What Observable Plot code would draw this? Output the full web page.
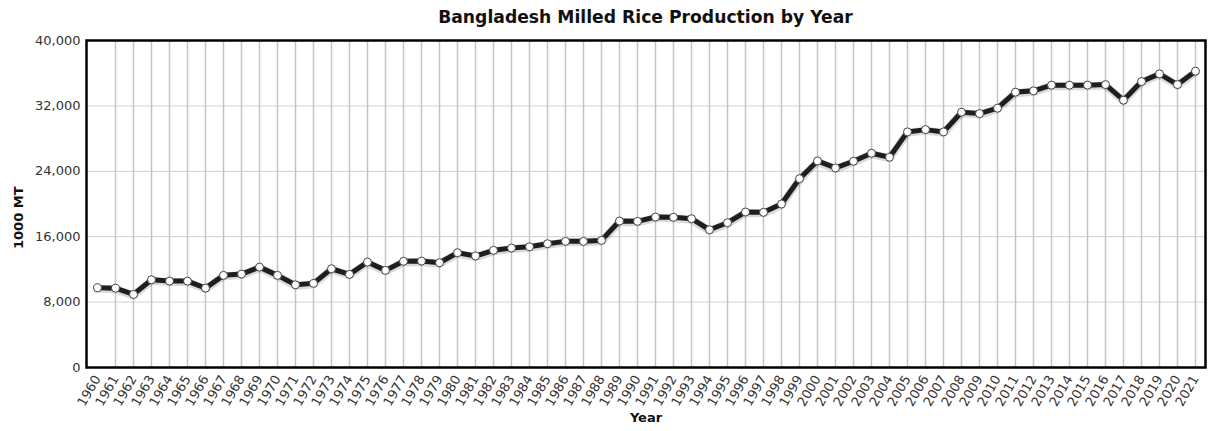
<!DOCTYPE html>
<html>
<head>
<meta charset="utf-8">
<script src="https://cdn.jsdelivr.net/npm/d3@7"></script>
<script src="https://cdn.jsdelivr.net/npm/@observablehq/plot@0.6"></script>
<style>
  body { margin: 0; background: #fff; font-family: "DejaVu Sans", Verdana, sans-serif; }
  #title { width: 1208px; height: 34px; box-sizing: border-box; padding-left: 86px; padding-right: 3px;
           display: flex; align-items: center; justify-content: center;
           font-weight: bold; font-size: 17.2px; color: #111; }
</style>
</head>
<body>
<div id="title">Bangladesh Milled Rice Production by Year</div>
<div id="chart"></div>
<script>
const years = [1960,1961,1962,1963,1964,1965,1966,1967,1968,1969,1970,1971,1972,1973,1974,1975,1976,1977,1978,1979,
  1980,1981,1982,1983,1984,1985,1986,1987,1988,1989,1990,1991,1992,1993,1994,1995,1996,1997,1998,1999,
  2000,2001,2002,2003,2004,2005,2006,2007,2008,2009,2010,2011,2012,2013,2014,2015,2016,2017,2018,2019,2020,2021];
const production = [9750,9700,8940,10730,10570,10570,9710,11270,11430,12280,11270,10120,10290,12080,11390,12900,11880,12990,13020,12810,
  14040,13630,14330,14610,14770,15140,15430,15430,15550,17920,17880,18410,18370,18200,16850,17710,19020,18980,20000,23100,
  25270,24410,25230,26210,25720,28820,29100,28820,31230,31060,31720,33680,33840,34540,34540,34540,34610,32700,34980,35920,34610,36250];
const yTicks = [0, 8000, 16000, 24000, 32000, 40000];

const data = years.map((y, i) => ({year: y, value: production[i]}));

const chart = Plot.plot({
  width: 1208,
  height: 397,
  marginTop: 6,
  marginBottom: 64,
  marginLeft: 86,
  marginRight: 3,
  style: {fontFamily: "DejaVu Sans, Verdana, sans-serif", fontSize: "13px", color: "#333", background: "#fff"},
  x: {type: "point", domain: years, padding: 0.5, label: null, tickSize: 0, tickRotate: -60, tickPadding: 9, tickFormat: d => String(d)},
  y: {domain: [0, 40000], ticks: yTicks, tickFormat: d3.format(","), label: null, tickSize: 0, tickPadding: 6},
  marks: [
    Plot.ruleY(yTicks.slice(1, -1), {stroke: "#cfcfcf", strokeWidth: 1}),
    Plot.ruleX(years.slice(1), {stroke: "#c4c4c4", strokeWidth: 1.5}),
    Plot.line(data, {x: "year", y: "value", stroke: "#000", strokeWidth: 8, strokeOpacity: 0.15, dy: 1}),
    Plot.line(data, {x: "year", y: "value", stroke: "#1e1e1e", strokeWidth: 5, strokeLinejoin: "round"}),
    Plot.dot(data, {x: "year", y: "value", r: 4, fill: "#fff", stroke: "#444", strokeWidth: 1}),
    Plot.frame({stroke: "#000", strokeWidth: 2.5}),
    Plot.text(["1000 MT"], {frameAnchor: "left", dx: -68, dy: 45, rotate: -90, fontWeight: "bold", fontSize: 13, fill: "#111"}),
    Plot.text(["Year"], {frameAnchor: "bottom", dy: 54, fontWeight: "bold", fontSize: 13, fill: "#111"})
  ]
});
document.getElementById("chart").append(chart);
</script>
</body>
</html>
